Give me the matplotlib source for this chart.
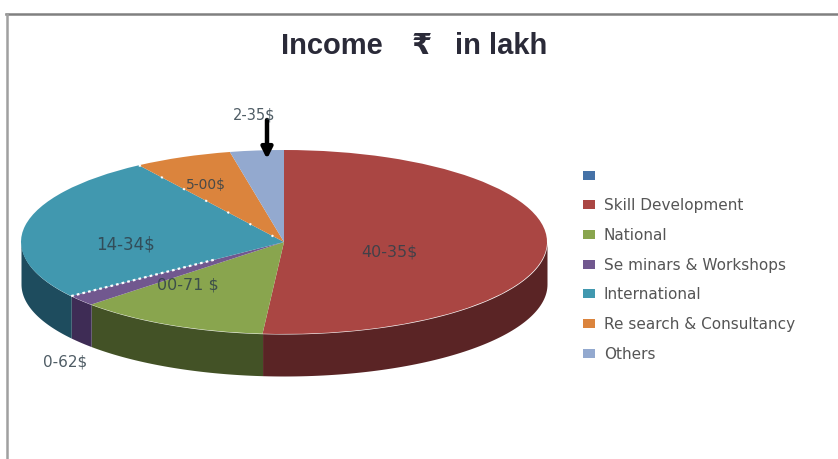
import numpy as np
import matplotlib
matplotlib.use("Agg")
import matplotlib.pyplot as plt
from matplotlib.lines import Line2D
from matplotlib.patches import Patch

W, H = 838, 459

categories = ["Skill Development", "National", "Seminars & Workshops",
              "International", "Research & Consultancy", "Others"]
shares = [51.3, 11.8, 1.9, 25.7, 6.0, 3.3]  # slice sizes
value_labels = ["40-35$", "00-71 $", "0-62$", "14-34$", "5-00$", "2-35$"]
label_px = [(389, 252), (188, 285), (65, 362), (125, 245), (206, 185), (254, 115)]
label_sizes = [11.5, 11.5, 11, 12, 10, 10.5]

legend_labels = [" "] + ["Skill Development", "National", "Se minars & Workshops",
                         "International", "Re search & Consultancy", "Others"]
top_colors = ["#AA4643", "#89A54E", "#71588F", "#4198AF", "#DB843D", "#93A9CF"]
side_colors = ["#5A2425", "#435226", "#3E2C55", "#1E4C5E", "#8A4F1E", "#5A6A85"]
legend_colors = ["#4572A7"] + top_colors

CX, CY, RX, RY, DEPTH = 284, 242, 263, 92, 42


def fx(px):
    return px / W


def fy(py):
    return 1 - py / H


plt.rcParams["font.family"] = ["Liberation Sans", "DejaVu Sans"]
fig = plt.figure(figsize=(W / 100, H / 100), dpi=100, facecolor="white")
ax = fig.add_axes([0, 0, 1, 1])

# top face: the pie squashed into an ellipse by the axes limits
ax.pie(shares, colors=top_colors, startangle=90, counterclock=False, radius=1,
       center=(0, 0), wedgeprops={"linewidth": 0, "zorder": 3})
ax.set_aspect("auto")
ax.set_xlim(-CX / RX, (W - CX) / RX)
ax.set_ylim((CY - H) / RY, CY / RY)

# side wall, only the front half (90..270 degrees clockwise from the top) shows
edges = np.cumsum([0] + shares) / sum(shares) * 360
for a0, a1, c in zip(edges[:-1], edges[1:], side_colors):
    lo, hi = max(a0, 90), min(a1, 270)
    if hi <= lo:
        continue
    t = np.radians(np.linspace(lo, hi, 80))
    ax.fill_between(np.sin(t), np.cos(t), np.cos(t) - DEPTH / RY, color=c, lw=0, zorder=2)

# white dotted edges round the blue slice
t = np.radians(edges[3])
ax.plot([np.sin(t), 0.32 * np.sin(t)], [np.cos(t), 0.32 * np.cos(t)], color="white",
        lw=1.6, ls=(0, (1.2, 1.4)), zorder=4)
t = np.radians(edges[4])
ax.plot([np.sin(t), 0], [np.cos(t), 0], color="white", lw=1.5, ls=(0, (1, 11)), zorder=4)

# frame of the screenshot
fig.add_artist(Line2D([fx(6), 1], [fy(14), fy(14)], color="#808080", lw=1.8))
fig.add_artist(Line2D([fx(6.5), fx(6.5)], [fy(14), 0], color="#a0a0a0", lw=1.8))

# title parts are spaced wider than a single string would be
for txt, px in [("Income", 281), ("₹", 412), ("in lakh", 455)]:
    fig.text(fx(px), fy(54), txt, ha="left", va="baseline", fontsize=21,
             fontweight="bold", color="#2A2A38")

for txt, (px, py), fs in zip(value_labels, label_px, label_sizes):
    fig.text(fx(px), fy(py), txt, ha="center", va="center", fontsize=fs,
             family="DejaVu Sans", color="#30404a", alpha=0.85, zorder=6)

# arrow pointing at the Others slice
ax.annotate("", xy=(fx(267), fy(159)), xytext=(fx(267), fy(120)),
            xycoords="figure fraction", textcoords="figure fraction",
            arrowprops=dict(arrowstyle="-|>", color="black", lw=3.2, mutation_scale=16,
                            shrinkA=0, shrinkB=0), zorder=7)

handles = [Patch(facecolor=c, edgecolor="none") for c in legend_colors]
fig.legend(handles, legend_labels, loc="upper left", bbox_to_anchor=(fx(578), fy(164)),
           frameon=False, labelcolor="#555555", handlelength=0.78,
           handleheight=0.5, handletextpad=0.6, labelspacing=0.96,
           borderpad=0.3, borderaxespad=0, prop={"family": "DejaVu Sans", "size": 11})

fig.savefig("out.png", dpi=100)
plt.close(fig)
